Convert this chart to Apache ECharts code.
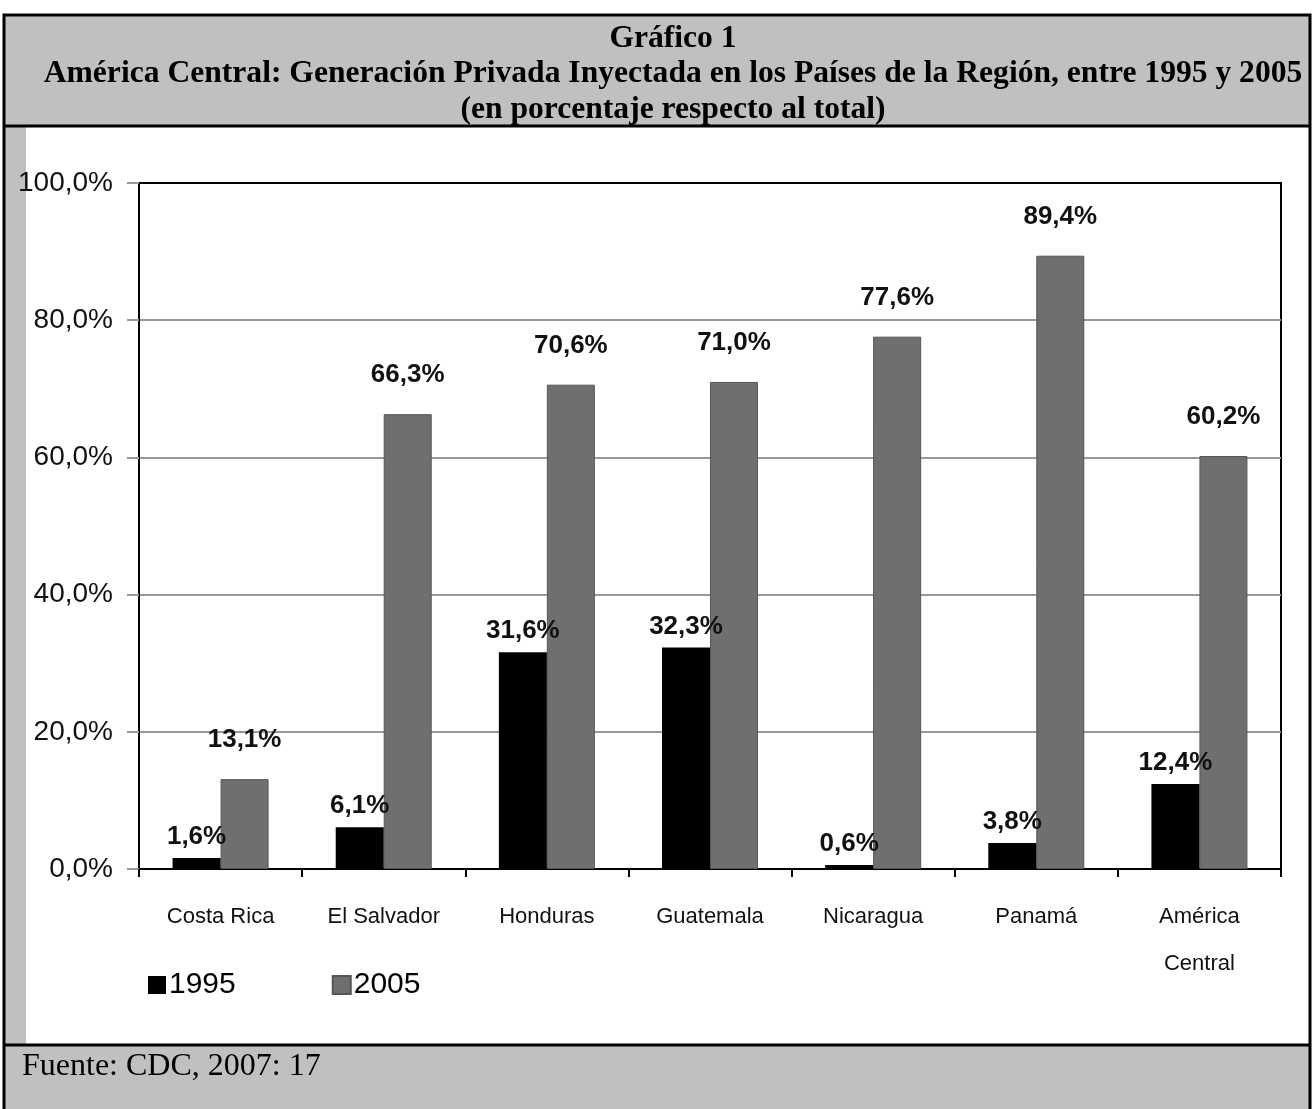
<!DOCTYPE html>
<html>
<head>
<meta charset="utf-8">
<script src="https://cdn.jsdelivr.net/npm/echarts@6/dist/echarts.min.js"></script>
<style>
  html, body { margin: 0; padding: 0; background: #fff; }
  #chart { width: 1312px; height: 1109px; }
</style>
</head>
<body>
<div id="chart"></div>
<script>
// datos
const categories = ['Costa Rica', 'El Salvador', 'Honduras', 'Guatemala', 'Nicaragua', 'Panamá', 'América\nCentral'];
const values1995 = [1.6, 6.1, 31.6, 32.3, 0.6, 3.8, 12.4];
const values2005 = [13.1, 66.3, 70.6, 71.0, 77.6, 89.4, 60.2];
const yTicks = [0, 20, 40, 60, 80, 100];

const sans = '"Liberation Sans", Arial, sans-serif';
const serif = '"Liberation Serif", "Times New Roman", serif';
const fmt = v => v.toFixed(1).replace('.', ',') + '%';

const chart = echarts.init(document.getElementById('chart'));

const option = {
  backgroundColor: '#fff',
  animation: false,
  graphic: [
    // cabecera gris
    { type: 'rect', shape: { x: 3, y: 14, width: 1308, height: 112 }, style: { fill: '#c0c0c0' }, z: -10 },
    // franja izquierda
    { type: 'rect', shape: { x: 5, y: 127, width: 21, height: 918 }, style: { fill: '#c0c0c0' }, z: -10 },
    // pie gris
    { type: 'rect', shape: { x: 3, y: 1045, width: 1308, height: 64 }, style: { fill: '#c0c0c0' }, z: -10 },
    // bordes
    { type: 'rect', shape: { x: 4, y: 15, width: 1306, height: 1100 }, style: { fill: null, stroke: '#000', lineWidth: 3 }, z: 10 },
    { type: 'line', shape: { x1: 3, y1: 126, x2: 1311, y2: 126 }, style: { stroke: '#000', lineWidth: 3 }, z: 10 },
    { type: 'line', shape: { x1: 3, y1: 1045, x2: 1311, y2: 1045 }, style: { stroke: '#000', lineWidth: 3 }, z: 10 },
    {
      type: 'text', left: 22, top: 1051,
      style: { text: 'Fuente: CDC, 2007: 17', font: '32px ' + serif, fill: '#000' }
    }
  ],
  title: {
    text: 'Gráfico 1\nAmérica Central: Generación Privada Inyectada en los Países de la Región, entre 1995 y 2005\n(en porcentaje respecto al total)',
    left: 668,
    top: 16,
    textAlign: 'center',
    textStyle: { fontFamily: serif, fontWeight: 'bold', fontSize: 31.6, lineHeight: 35.5, color: '#000', align: 'center' }
  },
  legend: {
    left: 143,
    top: 965,
    itemWidth: 18,
    itemHeight: 18,
    itemGap: 96,
    icon: 'rect',
    textStyle: { fontFamily: sans, fontSize: 30, color: '#000', padding: [0, 0, 0, -2] },
    data: ['1995', '2005']
  },
  grid: { left: 139, right: 31, top: 183, bottom: 240, show: true, borderColor: '#000', borderWidth: 2 },
  xAxis: {
    type: 'category',
    data: categories,
    axisLine: { lineStyle: { color: '#000', width: 2 } },
    axisTick: { show: true, length: 8, lineStyle: { color: '#000', width: 2 } },
    axisLabel: { interval: 0, fontFamily: sans, fontSize: 22, color: '#111', margin: 24, lineHeight: 47 }
  },
  yAxis: {
    type: 'value',
    min: 0,
    max: 100,
    interval: 20,
    axisLine: { show: true, lineStyle: { color: '#000', width: 2 } },
    axisTick: { show: true, length: 12, lineStyle: { color: '#999', width: 2 } },
    splitLine: { lineStyle: { color: ['#999', '#999', '#999', '#999', '#999', '#000'], width: 2 } },
    axisLabel: {
      fontFamily: sans, fontSize: 28, color: '#111', margin: 26,
      formatter: v => yTicks.includes(v) ? fmt(v) : ''
    }
  },
  series: [
    {
      name: '1995',
      type: 'bar',
      data: values1995,
      barWidth: 48,
      barGap: '0%',
      itemStyle: { color: '#000' },
      label: {
        show: true, position: 'top', distance: 8,
        fontFamily: sans, fontWeight: 'bold', fontSize: 26, color: '#111',
        formatter: p => fmt(p.value)
      },
      z: 3
    },
    {
      name: '2005',
      type: 'bar',
      data: values2005,
      barWidth: 48,
      itemStyle: { color: '#6f6f6f', borderColor: '#555', borderWidth: 1 },
      label: {
        show: true, position: 'top', distance: 26,
        fontFamily: sans, fontWeight: 'bold', fontSize: 26, color: '#111',
        formatter: p => fmt(p.value)
      },
      z: 2
    }
  ]
};

chart.setOption(option);
</script>
</body>
</html>
